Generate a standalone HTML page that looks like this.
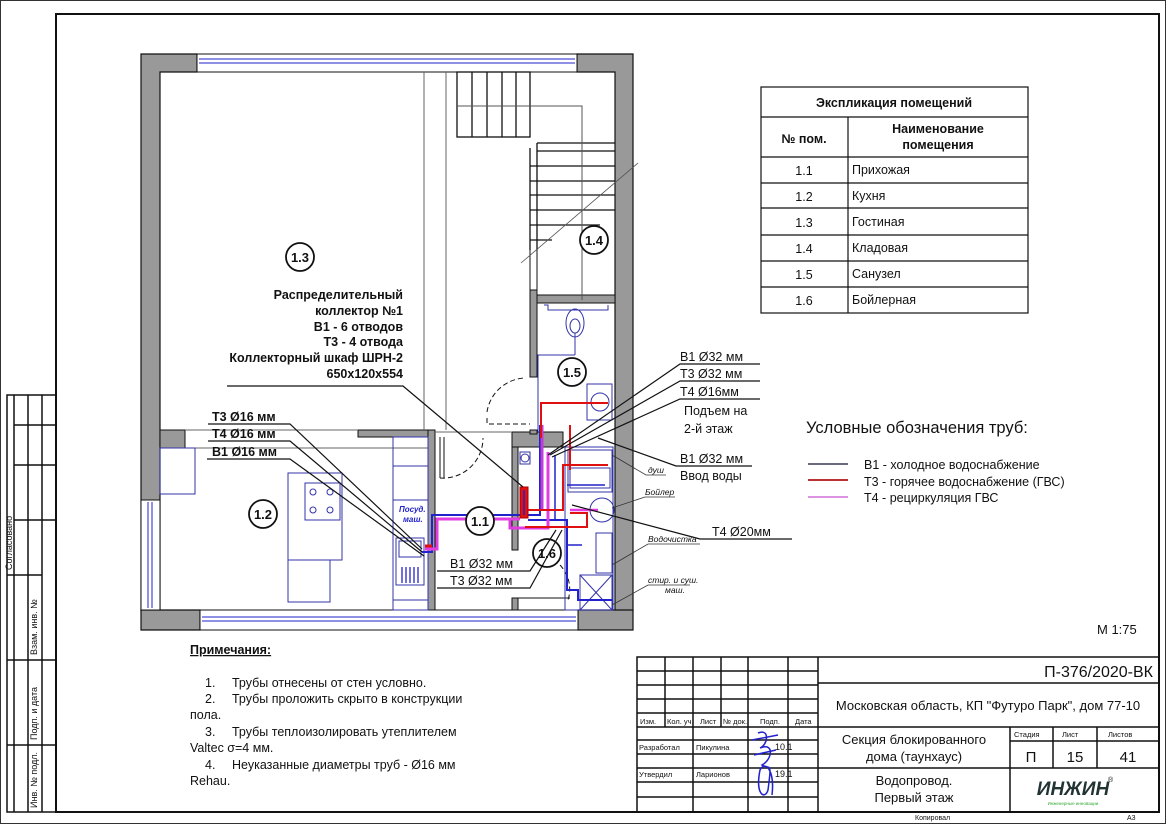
<!DOCTYPE html>
<html><head><meta charset="utf-8"><style>
html,body{margin:0;padding:0;background:#fff}
svg{display:block}
text{font-family:"Liberation Sans","Noto Sans CJK SC",sans-serif;fill:#111}
.b{font-weight:bold}
</style></head><body>
<svg width="1166" height="824" viewBox="0 0 1166 824" xmlns="http://www.w3.org/2000/svg">
<rect x="0.5" y="0.5" width="1165" height="823" fill="#fff" stroke="#333" stroke-width="1"/>
<rect x="56" y="14" width="1103" height="798" fill="none" stroke="#111" stroke-width="2"/>
<g stroke="#111" stroke-width="1.5" fill="none">
<rect x="7" y="395" width="49" height="417"/>
<line x1="14" y1="395" x2="14" y2="812"/>
<line x1="28" y1="395" x2="28" y2="812"/>
<line x1="42" y1="395" x2="42" y2="812"/>
<line x1="7" y1="575" x2="42" y2="575"/>
<line x1="14" y1="425" x2="56" y2="425"/>
<line x1="14" y1="465" x2="56" y2="465"/>
<line x1="14" y1="520" x2="56" y2="520"/>
<line x1="7" y1="660" x2="56" y2="660"/>
<line x1="7" y1="745" x2="56" y2="745"/>
</g>
<g font-size="9">
<text transform="translate(12,570) rotate(-90)">Согласовано</text>
<text transform="translate(37,655) rotate(-90)">Взам. инв. №</text>
<text transform="translate(37,740) rotate(-90)">Подп. и дата</text>
<text transform="translate(37,808) rotate(-90)">Инв. № подл.</text>
</g>

<g stroke="#111" stroke-width="1.2">
<path d="M141 54 H197 V72 H160 V611 H141 Z" fill="#999"/>
<path d="M577 54 H633 V611 H615 V72 H577 Z" fill="#999"/>
<path d="M141 610 H200 V630 H141 Z" fill="#999"/>
<path d="M578 610 H633 V630 H578 Z" fill="#999"/>
</g>
<g fill="none">
<rect x="197" y="54" width="380" height="18" fill="#fff" stroke="#111" stroke-width="1"/>
<line x1="199" y1="59" x2="575" y2="59" stroke="#22c" stroke-width="1"/>
<line x1="199" y1="63" x2="575" y2="63" stroke="#22c" stroke-width="1"/>
<rect x="200" y="610" width="378" height="20" fill="#fff" stroke="#111" stroke-width="1"/>
<line x1="202" y1="617" x2="576" y2="617" stroke="#22c" stroke-width="1"/>
<line x1="202" y1="621" x2="576" y2="621" stroke="#22c" stroke-width="1"/>
<rect x="141" y="500" width="19" height="110" fill="#fff" stroke="#111" stroke-width="1"/>
<line x1="148" y1="502" x2="148" y2="608" stroke="#22c"/>
<line x1="152" y1="502" x2="152" y2="608" stroke="#22c"/>
</g>
<g stroke="#111" stroke-width="1" fill="#999">
<rect x="160" y="430" width="25" height="18"/>
<rect x="358" y="430" width="70" height="7"/>
<rect x="428" y="430" width="7" height="180"/>
<rect x="512" y="432" width="51" height="15"/>
<rect x="512" y="447" width="6" height="103"/>
<rect x="512" y="598" width="6" height="12"/>
<rect x="530" y="290" width="7" height="87"/>
<rect x="537" y="295" width="78" height="8"/>
<rect x="530" y="430" width="7" height="4"/>
</g>
<g stroke="#666" stroke-width="1" fill="none">
<line x1="185" y1="430" x2="358" y2="430"/>
<line x1="185" y1="448" x2="428" y2="448"/>
<line x1="424" y1="72" x2="424" y2="430"/>
<line x1="446" y1="72" x2="446" y2="430"/>
<line x1="435" y1="432" x2="512" y2="432"/>
<line x1="530" y1="250" x2="530" y2="290" stroke="#111"/>
<line x1="537" y1="250" x2="537" y2="290" stroke="#111"/>
</g>
<g stroke="#111" stroke-width="1.3" fill="none">
<rect x="457" y="72" width="73" height="65"/>
<line x1="472" y1="72" x2="472" y2="137"/><line x1="487" y1="72" x2="487" y2="137"/>
<line x1="502" y1="72" x2="502" y2="137"/><line x1="516" y1="72" x2="516" y2="137"/>
<line x1="530" y1="148" x2="530" y2="250"/><line x1="537" y1="143" x2="537" y2="250"/>
<line x1="537" y1="143" x2="615" y2="143"/><line x1="537" y1="151" x2="615" y2="151"/>
<line x1="530" y1="166" x2="615" y2="166"/><line x1="530" y1="181" x2="615" y2="181"/>
<line x1="530" y1="195" x2="615" y2="195"/><line x1="530" y1="210" x2="615" y2="210"/>
<line x1="530" y1="225" x2="600" y2="225"/><line x1="530" y1="240" x2="552" y2="240"/>
</g>
<polyline points="457,106 582,106 582,300" fill="none" stroke="#555" stroke-width="1"/>
<line x1="521" y1="263" x2="638" y2="163" stroke="#555" stroke-width="0.8"/>
<g stroke="#33a" stroke-width="1" fill="none">
<rect x="160" y="448" width="35" height="46"/>
<rect x="288" y="473" width="54" height="87"/>
<rect x="288" y="560" width="42" height="42"/>
<rect x="305" y="483" width="35" height="37"/>
<circle cx="313" cy="492" r="3"/><circle cx="330" cy="492" r="3"/>
<circle cx="313" cy="510" r="3"/><circle cx="330" cy="510" r="3"/>
<rect x="393" y="437" width="35" height="173"/>
<line x1="393" y1="466" x2="428" y2="466"/>
<line x1="393" y1="500" x2="428" y2="500"/>
<rect x="396" y="538" width="28" height="47"/>
<rect x="399" y="541" width="22" height="16"/>
<line x1="393" y1="600" x2="428" y2="600"/>
</g>
<g stroke="#22c" stroke-width="1.3">
<line x1="402" y1="567" x2="402" y2="583"/><line x1="406" y1="567" x2="406" y2="583"/>
<line x1="410" y1="567" x2="410" y2="583"/><line x1="414" y1="567" x2="414" y2="583"/>
<line x1="418" y1="567" x2="418" y2="583"/>
</g>
<text x="399" y="512" font-size="8" font-style="italic" class="b" style="fill:#22c">Посуд.</text>
<text x="403" y="522" font-size="8" font-style="italic" class="b" style="fill:#22c">маш.</text>
<g stroke="#111" stroke-width="1" fill="none" stroke-dasharray="5,3">
<path d="M487 412 A40 40 0 0 1 525 378"/>
<path d="M487 418 V424 H530"/>
<path d="M440 478 A40 40 0 0 0 483 438"/>
<path d="M560 565 A35 35 0 0 1 568 600"/>
</g>
<line x1="440" y1="437" x2="440" y2="478" stroke="#111"/>
<line x1="444" y1="437" x2="444" y2="478" stroke="#111"/>
<line x1="518" y1="598" x2="570" y2="598" stroke="#111"/>
<g stroke="#33a" stroke-width="1" fill="none">
<path d="M544 305 H548 V310 H608 V305"/>
<ellipse cx="575" cy="323" rx="9" ry="14"/>
<ellipse cx="575" cy="326" rx="5" ry="7"/>
<line x1="575" y1="333" x2="575" y2="355"/>
<polyline points="575,355 538,355 538,432"/>
<rect x="587" y="384" width="25" height="36"/>
<circle cx="600" cy="402" r="9"/>
<rect x="565" y="447" width="48" height="163"/>
<rect x="568" y="450" width="44" height="42"/>
<rect x="570" y="468" width="40" height="20"/>
<circle cx="602" cy="510" r="12"/>
<rect x="596" y="533" width="16" height="40"/>
<rect x="580" y="575" width="32" height="35"/>
<line x1="580" y1="575" x2="612" y2="610"/><line x1="612" y1="575" x2="580" y2="610"/>
<rect x="520" y="452" width="10" height="12"/>
<circle cx="525" cy="458" r="4"/>
</g>
<g fill="none" stroke-linejoin="miter">
<polyline points="422,552 432,552 432,515 540,515 540,425" stroke="#22c" stroke-width="2"/>
<polyline points="528,520 567,520 567,590 578,590 578,600 612,600" stroke="#22c" stroke-width="2"/>
<polyline points="567,545 582,545" stroke="#22c" stroke-width="1.5"/>
<polyline points="567,485 605,485" stroke="#22c" stroke-width="1.5"/>
<polyline points="555,520 555,455" stroke="#22c" stroke-width="1.5"/>
<polyline points="425,549 437,549 437,519 520,519" stroke="#e23de2" stroke-width="3"/>
<polyline points="510,519 510,528 548,528 548,452" stroke="#e23de2" stroke-width="3"/>
<polyline points="542,510 542,425" stroke="#c03bd8" stroke-width="3"/>
<polyline points="570,510 598,510" stroke="#e23de2" stroke-width="2.5"/>
<polyline points="425,546 432,546" stroke="#e01010" stroke-width="3"/>
<polyline points="528,510 563,510 563,465 608,465" stroke="#e01010" stroke-width="2"/>
<polyline points="525,527 587,527 587,513 570,513" stroke="#e01010" stroke-width="2"/>
<polyline points="541,438 541,403 608,403" stroke="#e01010" stroke-width="2"/>
<polyline points="570,425 570,470" stroke="#e01010" stroke-width="2"/>
<rect x="520" y="487" width="8" height="31" fill="#e01010" stroke="#a00" stroke-width="1"/>
<line x1="524" y1="490" x2="524" y2="515" stroke="#22c" stroke-width="1.5"/>
</g>
<g stroke="#111" stroke-width="1.8" fill="#fff">
<circle cx="300" cy="257" r="14"/><circle cx="594" cy="240" r="14"/>
<circle cx="572" cy="372" r="14"/><circle cx="480" cy="521" r="14"/>
<circle cx="547" cy="553" r="14"/><circle cx="263" cy="514" r="14"/>
</g>
<g font-size="13" text-anchor="middle" class="b">
<text x="300" y="262">1.3</text><text x="594" y="245">1.4</text>
<text x="572" y="377">1.5</text><text x="480" y="526">1.1</text>
<text x="547" y="558">1.6</text><text x="263" y="519">1.2</text>
</g>
<g font-size="12.5" text-anchor="end" class="b">
<text x="403" y="299">Распределительный</text>
<text x="403" y="315">коллектор №1</text>
<text x="403" y="331">В1 - 6 отводов</text>
<text x="403" y="346">Т3 - 4 отвода</text>
<text x="403" y="362">Коллекторный шкаф ШРН-2</text>
<text x="403" y="378">650х120х554</text>
</g>
<g stroke="#111" stroke-width="1.2" fill="none">
<polyline points="227,386 403,386 523,487"/>
<polyline points="208,424 290,424 422,549"/>
<polyline points="208,441 290,441 422,552"/>
<polyline points="207,459 290,459 424,556"/>
<polyline points="437,571 530,571 556,530"/>
<polyline points="437,588 530,588 562,530"/>
<polyline points="760,364 680,364 548,455"/>
<polyline points="760,381 680,381 550,455"/>
<polyline points="760,399 680,399 552,457"/>
<polyline points="752,466 676,466 598,438"/>
<polyline points="792,539 700,539 572,505"/>
</g>
<g stroke="#333" stroke-width="0.8" fill="none">
<polyline points="666,475 646,475 612,455"/>
<polyline points="675,497 645,497 612,508"/>
<polyline points="700,544 648,544 612,565"/>
<polyline points="690,585 648,585 612,605"/>
</g>
<g font-size="12.5" class="b">
<text x="212" y="421">Т3 Ø16 мм</text>
<text x="212" y="438">Т4 Ø16 мм</text>
<text x="212" y="456">В1 Ø16 мм</text>
</g>
<g font-size="12.5">
<text x="450" y="568">В1 Ø32 мм</text>
<text x="450" y="585">Т3 Ø32 мм</text>
<text x="680" y="361">В1 Ø32 мм</text>
<text x="680" y="378">Т3 Ø32 мм</text>
<text x="680" y="396">Т4 Ø16мм</text>
<text x="684" y="415">Подъем на</text>
<text x="684" y="433">2-й этаж</text>
<text x="680" y="463">В1 Ø32 мм</text>
<text x="680" y="480">Ввод воды</text>
<text x="712" y="536">Т4 Ø20мм</text>
</g>
<g font-size="8.5" font-style="italic">
<text x="648" y="473">душ</text>
<text x="645" y="495">Бойлер</text>
<text x="648" y="542">Водочистка</text>
<text x="648" y="583">стир. и суш.</text>
<text x="665" y="593">маш.</text>
</g>

<g stroke="#111" stroke-width="1.2" fill="none">
<rect x="761" y="87" width="267" height="226"/>
<line x1="761" y1="117" x2="1028" y2="117"/>
<line x1="761" y1="157" x2="1028" y2="157"/>
<line x1="761" y1="183" x2="1028" y2="183"/>
<line x1="761" y1="208" x2="1028" y2="208"/>
<line x1="761" y1="235" x2="1028" y2="235"/>
<line x1="761" y1="261" x2="1028" y2="261"/>
<line x1="761" y1="287" x2="1028" y2="287"/>
<line x1="848" y1="117" x2="848" y2="313"/>
</g>
<g font-size="12.5">
<text x="894" y="107" text-anchor="middle" class="b">Экспликация помещений</text>
<text x="804" y="143" text-anchor="middle" class="b">№ пом.</text>
<text x="938" y="133" text-anchor="middle" class="b">Наименование</text>
<text x="938" y="149" text-anchor="middle" class="b">помещения</text>
<g text-anchor="middle"><text x="804" y="175">1.1</text><text x="804" y="201">1.2</text><text x="804" y="227">1.3</text><text x="804" y="253">1.4</text><text x="804" y="279">1.5</text><text x="804" y="305">1.6</text></g>
<text x="852" y="174">Прихожая</text><text x="852" y="200">Кухня</text><text x="852" y="226">Гостиная</text>
<text x="852" y="252">Кладовая</text><text x="852" y="278">Санузел</text><text x="852" y="304">Бойлерная</text>
</g>

<text x="806" y="433" font-size="16.5">Условные обозначения  труб:</text>
<line x1="808" y1="464" x2="848" y2="464" stroke="#113" stroke-width="1.2"/>
<line x1="808" y1="480" x2="848" y2="480" stroke="#b01515" stroke-width="1.8"/>
<line x1="808" y1="497" x2="848" y2="497" stroke="#d070d8" stroke-width="1.5"/>
<g font-size="12.5">
<text x="864" y="469">В1 - холодное водоснабжение</text>
<text x="864" y="486">Т3 - горячее водоснабжение (ГВС)</text>
<text x="864" y="502">Т4 - рециркуляция ГВС</text>
</g>
<text x="1097" y="634" font-size="13">М 1:75</text>

<g font-size="12.5">
<text x="190" y="654" class="b" text-decoration="underline">Примечания:</text>
<text x="205" y="687">1.</text><text x="232" y="687">Трубы отнесены от стен условно.</text>
<text x="205" y="703">2.</text><text x="232" y="703">Трубы проложить скрыто в конструкции</text>
<text x="190" y="719">пола.</text>
<text x="205" y="736">3.</text><text x="232" y="736">Трубы теплоизолировать утеплителем</text>
<text x="190" y="752">Valtec σ=4 мм.</text>
<text x="205" y="769">4.</text><text x="232" y="769">Неуказанные диаметры труб - Ø16 мм</text>
<text x="190" y="785">Rehau.</text>
</g>

<g stroke="#111" stroke-width="1.5" fill="none">
<rect x="637" y="657" width="522" height="155"/>
<line x1="818" y1="657" x2="818" y2="812"/>
<line x1="818" y1="683" x2="1159" y2="683"/>
<line x1="818" y1="727" x2="1159" y2="727"/>
<line x1="818" y1="768" x2="1159" y2="768"/>
<line x1="1010" y1="727" x2="1010" y2="812"/>
<line x1="1053" y1="727" x2="1053" y2="768"/>
<line x1="1097" y1="727" x2="1097" y2="768"/>
<line x1="1010" y1="741" x2="1159" y2="741"/>
<line x1="637" y1="671" x2="818" y2="671"/>
<line x1="637" y1="685" x2="818" y2="685"/>
<line x1="637" y1="699" x2="818" y2="699"/>
<line x1="637" y1="713" x2="818" y2="713"/>
<line x1="637" y1="727" x2="818" y2="727"/>
<line x1="637" y1="740" x2="818" y2="740"/>
<line x1="637" y1="754" x2="818" y2="754"/>
<line x1="637" y1="768" x2="818" y2="768"/>
<line x1="637" y1="782" x2="818" y2="782"/>
<line x1="637" y1="797" x2="818" y2="797"/>
<line x1="665" y1="657" x2="665" y2="727"/>
<line x1="693" y1="657" x2="693" y2="812"/>
<line x1="721" y1="657" x2="721" y2="727"/>
<line x1="748" y1="657" x2="748" y2="812"/>
<line x1="788" y1="657" x2="788" y2="812"/>
</g>
<g font-size="7.5">
<text x="640" y="724">Изм.</text><text x="667" y="724">Кол. уч.</text><text x="700" y="724">Лист</text>
<text x="723" y="724">№ док.</text><text x="760" y="724">Подп.</text><text x="795" y="724">Дата</text>
<text x="639" y="750">Разработал</text><text x="696" y="750">Пикулина</text>
<text x="639" y="777">Утвердил</text><text x="696" y="777">Ларионов</text>
<text x="775" y="750" font-size="9">10.1</text><text x="775" y="777" font-size="9">19.1</text>
<text x="1014" y="737">Стадия</text><text x="1062" y="737">Лист</text><text x="1108" y="737">Листов</text>
</g>
<path d="M758 733 C770 728 768 745 760 748 C775 742 772 760 762 765 C770 770 772 760 768 790 C765 800 755 795 760 770 C765 760 775 770 772 795 M752 740 L778 735 M754 755 L776 750" fill="none" stroke="#22c" stroke-width="1.5"/>
<text x="1153" y="677" font-size="16" text-anchor="end">П-376/2020-ВК</text>
<text x="988" y="710" font-size="13" text-anchor="middle">Московская область, КП "Футуро Парк", дом 77-10</text>
<text x="914" y="744" font-size="13" text-anchor="middle">Секция блокированного</text>
<text x="914" y="761" font-size="13" text-anchor="middle">дома (таунхаус)</text>
<text x="914" y="785" font-size="13" text-anchor="middle">Водопровод.</text>
<text x="914" y="802" font-size="13" text-anchor="middle">Первый этаж</text>
<text x="1031" y="762" font-size="15" text-anchor="middle">П</text>
<text x="1075" y="762" font-size="15" text-anchor="middle">15</text>
<text x="1128" y="762" font-size="15" text-anchor="middle">41</text>
<text x="1073" y="795" font-size="19" text-anchor="middle" class="b" style="fill:#233;font-style:italic">ИНЖИН</text>
<text x="1108" y="782" font-size="7">®</text>
<text x="1073" y="805" font-size="4.5" text-anchor="middle" style="fill:#3a3">Инженерные инновации</text>
<text x="915" y="820" font-size="7">Копировал</text>
<text x="1127" y="820" font-size="7">А3</text>
</svg>
</body></html>
